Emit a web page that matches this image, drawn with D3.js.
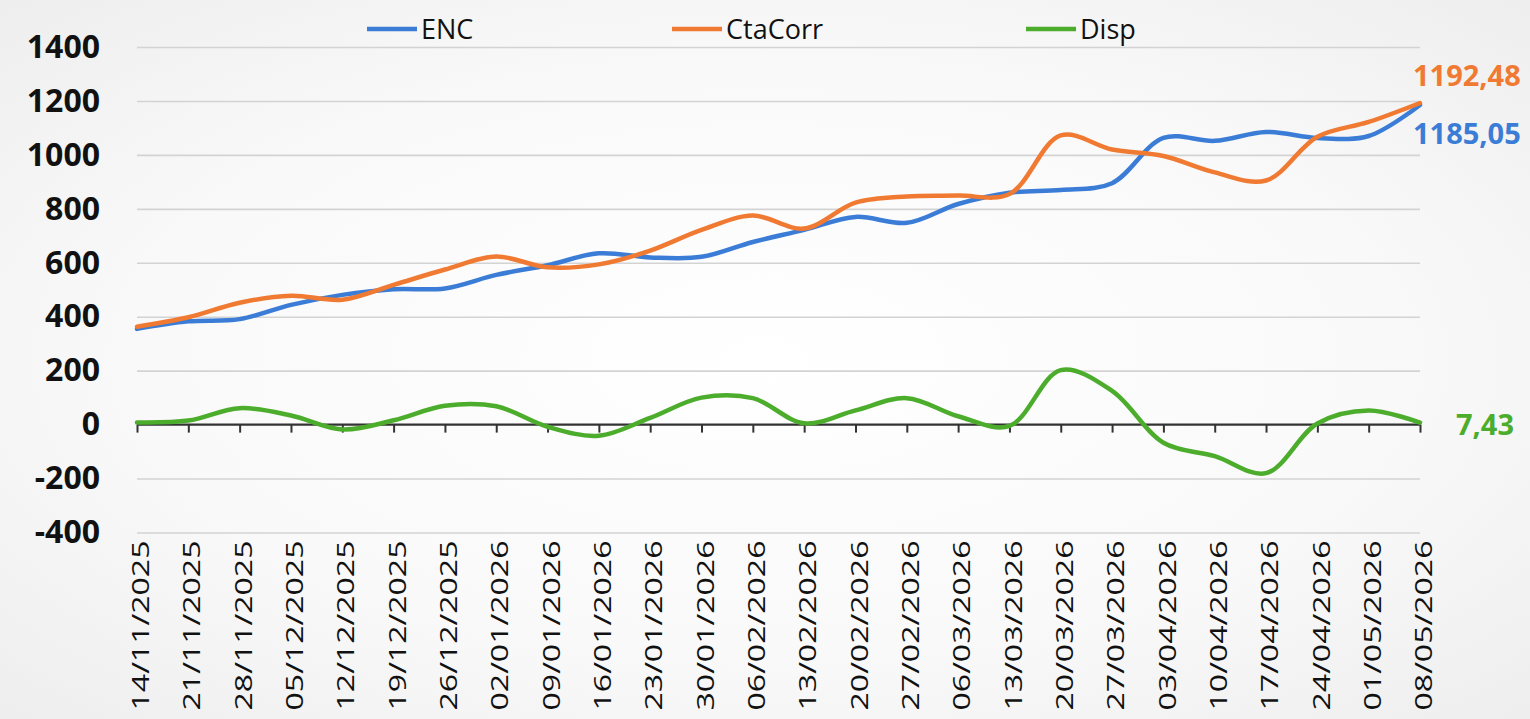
<!DOCTYPE html>
<html>
<head>
<meta charset="utf-8">
<script src="https://cdn.jsdelivr.net/npm/d3@7"></script>
<style>
  html, body { margin: 0; padding: 0; }
  body { width: 1530px; height: 719px; overflow: hidden; background: #f3f3f3; }
  svg { display: block; }
</style>
</head>
<body>
<svg id="chart" width="1530" height="719"></svg>
<script>
// ---- data ----
const dates = ["14/11/2025","21/11/2025","28/11/2025","05/12/2025","12/12/2025","19/12/2025","26/12/2025",
  "02/01/2026","09/01/2026","16/01/2026","23/01/2026","30/01/2026","06/02/2026","13/02/2026","20/02/2026",
  "27/02/2026","06/03/2026","13/03/2026","20/03/2026","27/03/2026","03/04/2026","10/04/2026","17/04/2026",
  "24/04/2026","01/05/2026","08/05/2026"];
const enc = [355, 383, 391, 444, 481, 502, 505, 555, 591, 635, 620, 622, 677, 722, 770, 748, 818, 860, 870, 895,
  1063, 1052, 1085, 1063, 1070, 1185.05];
const ctaCorr = [363, 398, 452, 478, 463, 518, 575, 623, 583, 594, 645, 722, 775, 727, 823, 846, 849, 855, 1072, 1020,
  996, 935, 905, 1067, 1122, 1192.48];
const disp = [8, 15, 61, 34, -18, 16, 70, 68, -8, -41, 25, 100, 98, 5, 53, 98, 31, -5, 202, 125,
  -67, -117, -180, 4, 52, 7.43];
const yTicks = [-400, -200, 0, 200, 400, 600, 800, 1000, 1200, 1400];
const seriesNames = ["ENC", "CtaCorr", "Disp"];
const seriesColors = ["#3b7dd6", "#f07a32", "#4cad2c"];
const endLabels = ["1185,05", "1192,48", "7,43"];

// ---- chart ----
const svg = d3.select("#chart");
const defs = svg.append("defs");
const grad = defs.append("radialGradient").attr("id", "bg").attr("cx", "50%").attr("cy", "50%").attr("r", "75%");
grad.append("stop").attr("offset", "0%").attr("stop-color", "#ffffff");
grad.append("stop").attr("offset", "55%").attr("stop-color", "#f9f9f9");
grad.append("stop").attr("offset", "100%").attr("stop-color", "#ececec");
svg.append("rect").attr("width", 1530).attr("height", 719).attr("fill", "url(#bg)");

const left = 137, right = 1420;
const x = d3.scalePoint().domain(dates).range([left, right]);
const y = d3.scaleLinear().domain([-400, 1400]).range([532.5, 47]);

const font = "'Open Sans', 'Liberation Sans', sans-serif";

// gridlines
svg.append("g")
  .attr("transform", `translate(${left},0)`)
  .call(d3.axisLeft(y).tickValues(yTicks.filter(v => v !== 0)).tickSize(-(right - left)).tickFormat(""))
  .call(g => g.select(".domain").remove())
  .call(g => g.selectAll("line").attr("stroke", "#d3d3d3").attr("stroke-width", 1.6));

// y labels
svg.append("g")
  .attr("transform", `translate(${left},0)`)
  .call(d3.axisLeft(y).tickValues(yTicks).tickSize(0).tickPadding(37).tickFormat(d => String(d)))
  .call(g => g.select(".domain").remove())
  .call(g => g.selectAll("text")
    .style("font-family", font).style("font-weight", "700").style("font-size", "32px").attr("fill", "#111"));

// zero axis with ticks
svg.append("g")
  .attr("transform", `translate(0,${y(0)})`)
  .call(d3.axisBottom(x).tickSize(8).tickFormat(""))
  .call(g => g.select(".domain").attr("stroke", "#333").attr("stroke-width", 2.2).attr("d", `M${left},0H${right}`))
  .call(g => g.selectAll(".tick line").attr("stroke", "#333").attr("stroke-width", 2));

// date labels
svg.append("g")
  .attr("transform", `translate(3,${y(-400)})`)
  .call(d3.axisBottom(x).tickSize(0))
  .call(g => g.select(".domain").remove())
  .call(g => g.selectAll("text")
    .attr("transform", "rotate(-90)")
    .attr("x", -8).attr("y", 0).attr("dy", "0.36em")
    .attr("text-anchor", "end")
    .attr("textLength", 170).attr("lengthAdjust", "spacingAndGlyphs")
    .style("font-family", font).style("font-size", "24px").attr("fill", "#111"));

// lines
const line = d3.line().x((d, i) => x(dates[i])).y(d => y(d)).curve(d3.curveCatmullRom.alpha(0.5));
const allSeries = [enc, ctaCorr, disp];
// draw order: Disp, ENC, CtaCorr
[2, 0, 1].forEach(si => {
  svg.append("path").datum(allSeries[si])
    .attr("d", line).attr("fill", "none")
    .attr("stroke", seriesColors[si]).attr("stroke-width", 4.5)
    .attr("stroke-linejoin", "round").attr("stroke-linecap", "round");
});

// legend
const legendX = [367, 672, 1026];
seriesNames.forEach((name, i) => {
  const lg = svg.append("g").attr("transform", `translate(${legendX[i]},29)`);
  lg.append("line").attr("x1", 0).attr("x2", 50).attr("y1", 0).attr("y2", 0)
    .attr("stroke", seriesColors[i]).attr("stroke-width", 4.5);
  lg.append("text").attr("x", 54).attr("y", 0).attr("dy", "0.36em")
    .style("font-family", font).style("font-size", "27px").attr("fill", "#111").text(name);
});

// end labels
const endPos = [[1413, 134], [1413, 76], [1456, 425]];
endLabels.forEach((t, i) => {
  svg.append("text").attr("x", endPos[i][0]).attr("y", endPos[i][1]).attr("dy", "0.36em")
    .style("font-family", font).style("font-weight", "700").style("font-size", "29px")
    .attr("fill", seriesColors[i]).text(t);
});
</script>
</body>
</html>
